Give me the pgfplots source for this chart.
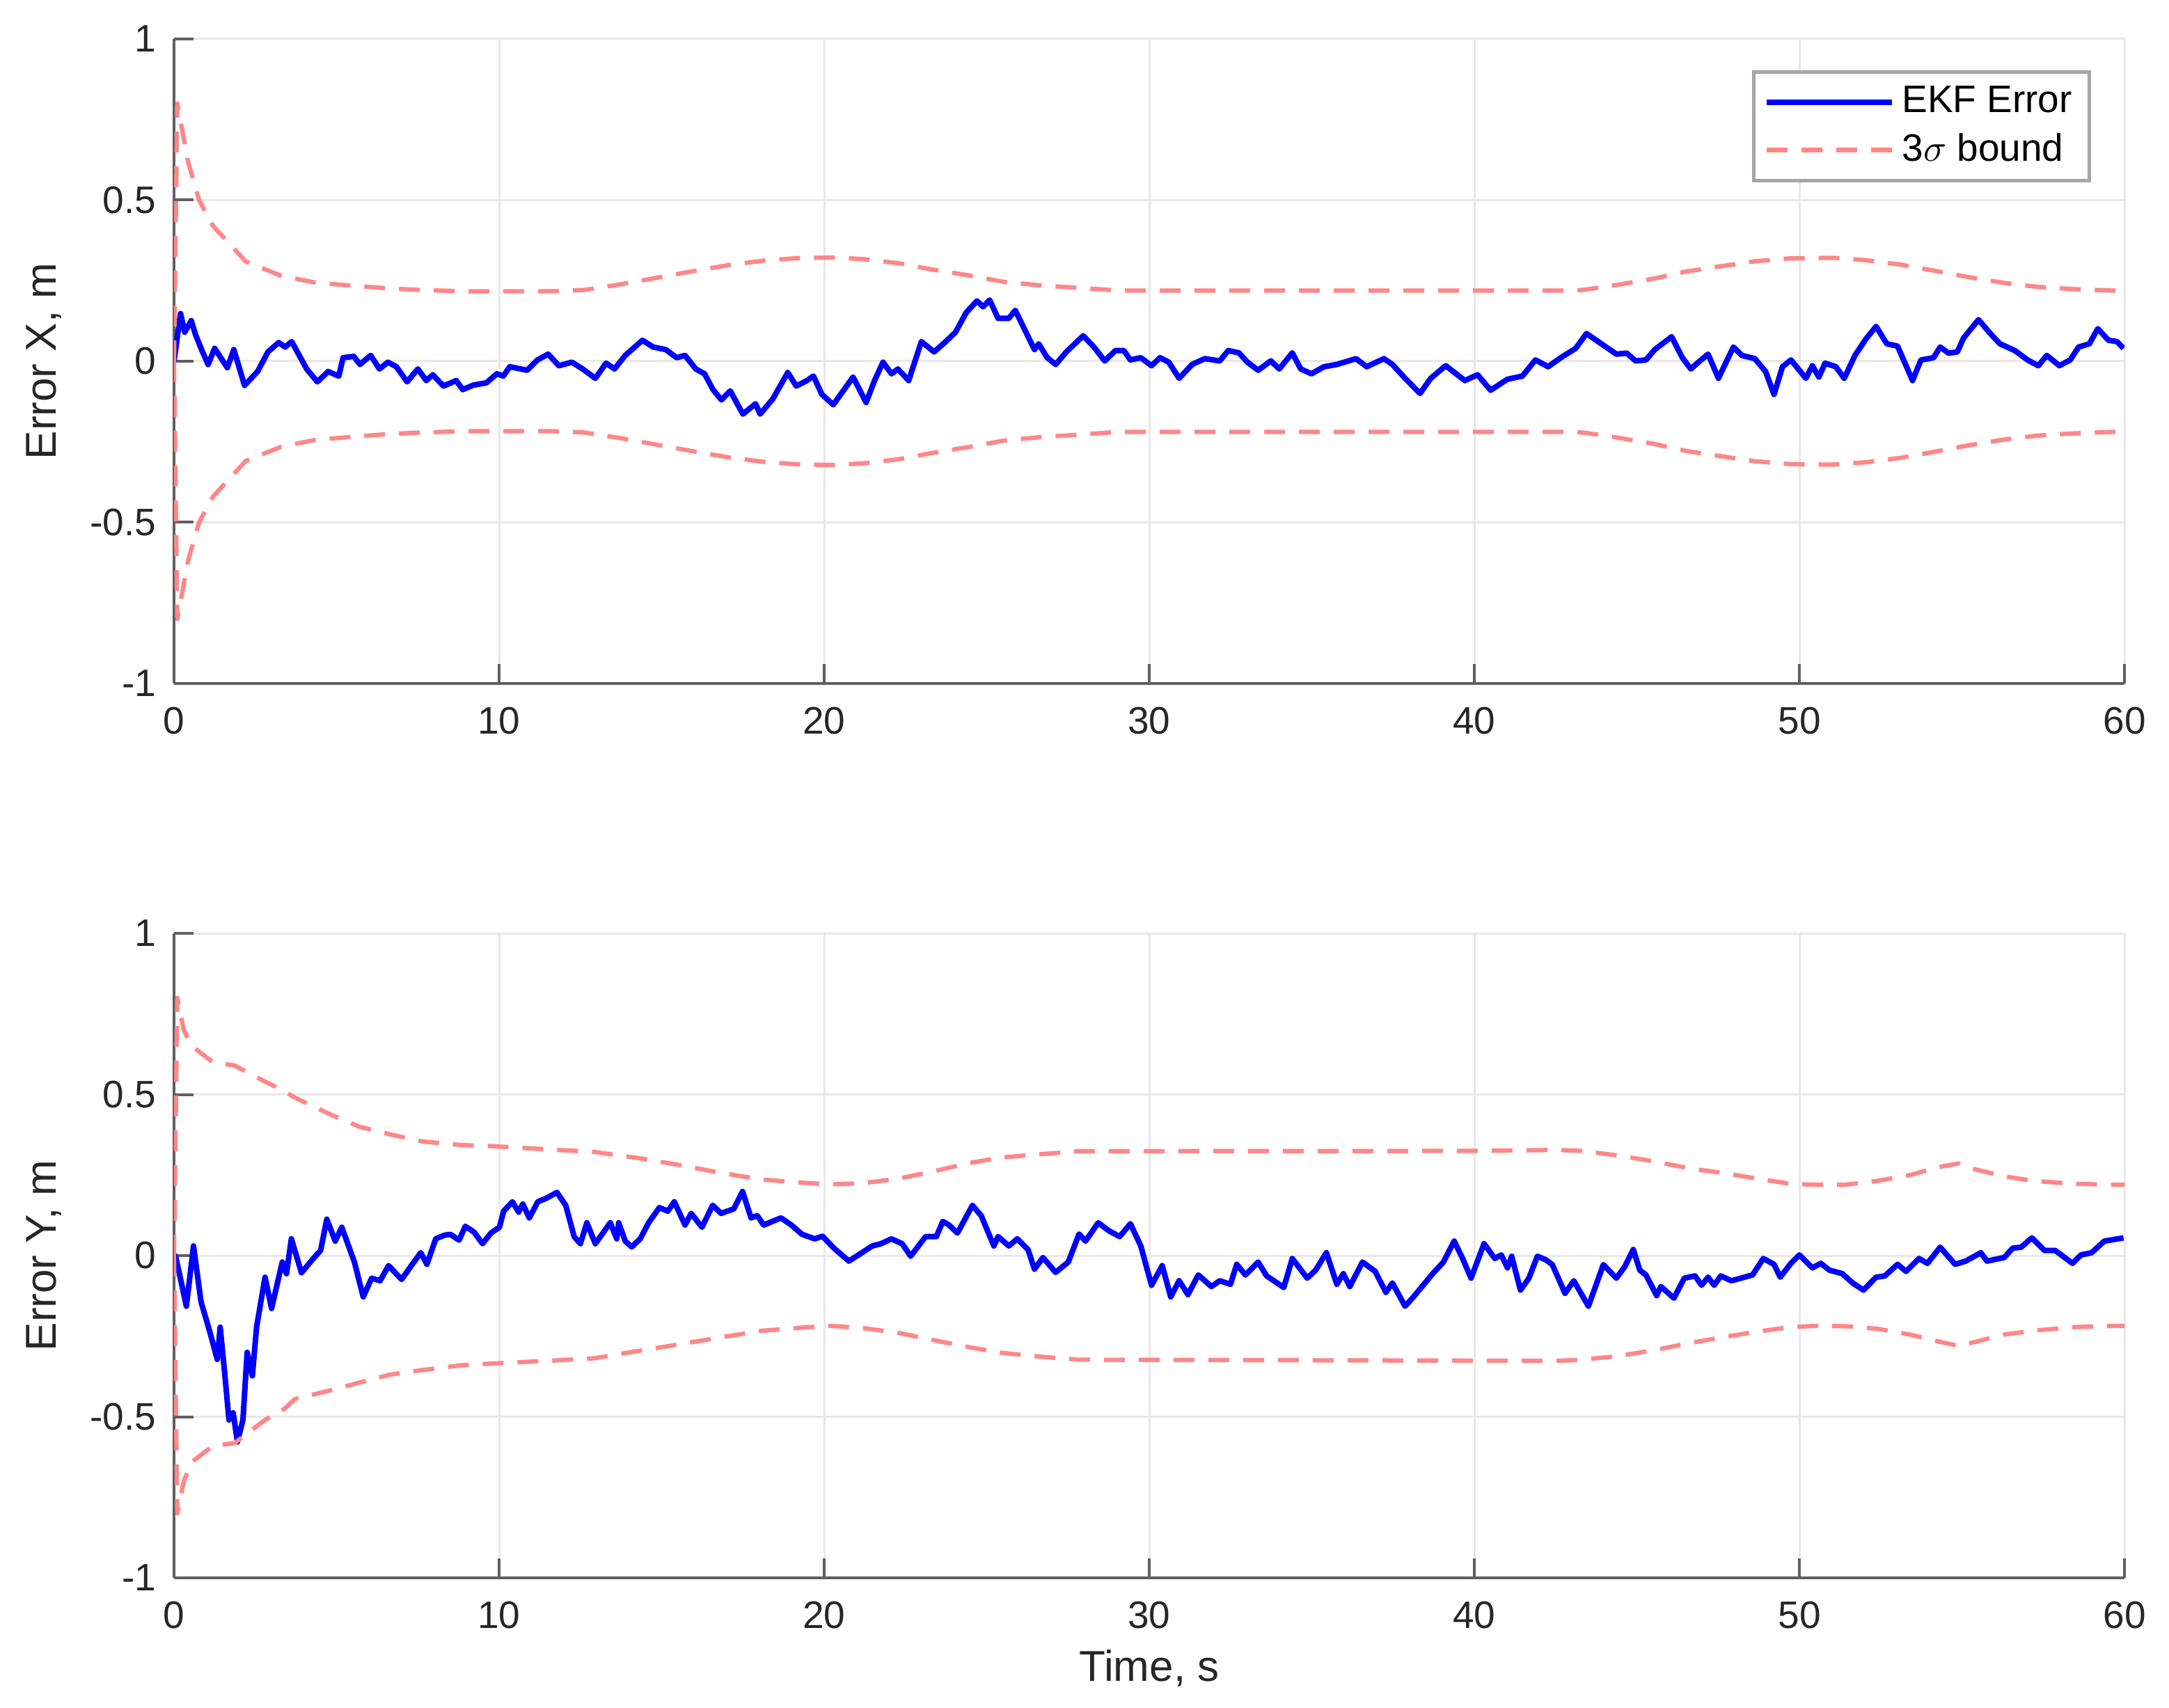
\documentclass[border=0pt]{standalone}
\usepackage{fontspec}
\setmainfont{Liberation Sans}
\usepackage{pgfplots}
\usepackage{pgfplotstable}
\pgfplotsset{compat=1.18}
\definecolor{ekfblue}{RGB}{0,0,255}
\definecolor{sigred}{RGB}{255,135,135}
\definecolor{gridgray}{RGB}{232,232,232}
\definecolor{axgray}{RGB}{95,95,95}
\definecolor{legedge}{RGB}{165,165,165}

\pgfplotstableread{
t v
0 0
0.2 0.148
0.33 0.09
0.53 0.126
0.66 0.083
0.86 0.033
1.05 -0.01
1.25 0.04
1.64 -0.02
1.84 0.036
2.17 -0.075
2.57 -0.032
2.89 0.029
3.22 0.058
3.42 0.044
3.62 0.061
4.08 -0.024
4.41 -0.064
4.74 -0.032
5.07 -0.046
5.2 0.011
5.53 0.015
5.72 -0.01
6.05 0.018
6.32 -0.024
6.58 -0.003
6.84 -0.017
7.17 -0.064
7.5 -0.024
7.76 -0.06
7.96 -0.042
8.29 -0.077
8.68 -0.06
8.88 -0.088
9.21 -0.074
9.61 -0.067
9.93 -0.039
10.13 -0.046
10.33 -0.017
10.86 -0.028
11.18 0.004
11.51 0.022
11.84 -0.014
12.24 -0.003
12.57 -0.024
12.96 -0.053
13.29 -0.006
13.55 -0.024
13.88 0.018
14.41 0.065
14.74 0.044
15.13 0.036
15.46 0.011
15.72 0.018
16.05 -0.024
16.32 -0.039
16.58 -0.088
16.84 -0.12
17.11 -0.092
17.5 -0.164
17.89 -0.132
18.03 -0.164
18.42 -0.117
18.88 -0.035
19.14 -0.077
19.47 -0.06
19.67 -0.046
19.93 -0.103
20.28 -0.135
20.89 -0.049
21.29 -0.128
21.55 -0.06
21.81 -0.003
22.07 -0.039
22.27 -0.024
22.6 -0.06
22.99 0.061
23.38 0.029
23.71 0.058
24.04 0.09
24.37 0.151
24.7 0.187
24.89 0.169
25.09 0.19
25.35 0.133
25.68 0.133
25.88 0.158
26.14 0.104
26.47 0.036
26.6 0.054
26.86 0.011
27.12 -0.01
27.45 0.029
27.97 0.079
28.3 0.044
28.63 0.001
28.96 0.033
29.22 0.033
29.42 0.004
29.74 0.011
30.07 -0.014
30.33 0.011
30.6 -0.003
30.92 -0.053
31.32 -0.01
31.71 0.008
32.17 0.001
32.43 0.033
32.76 0.026
33.02 -0.003
33.35 -0.028
33.74 0.001
34.0 -0.024
34.4 0.026
34.66 -0.024
34.99 -0.039
35.38 -0.017
35.77 -0.01
36.36 0.008
36.69 -0.017
37.22 0.008
37.48 -0.01
37.87 -0.053
38.33 -0.1
38.66 -0.053
39.12 -0.014
39.71 -0.06
40.1 -0.042
40.5 -0.09
41.02 -0.056
41.48 -0.046
41.88 0.004
42.27 -0.017
42.66 0.011
43.12 0.04
43.45 0.086
43.91 0.054
44.37 0.022
44.69 0.025
44.96 0.001
45.28 0.004
45.55 0.036
46.07 0.076
46.4 0.011
46.66 -0.024
46.86 -0.006
47.19 0.022
47.51 -0.053
47.97 0.044
48.23 0.018
48.63 0.008
48.96 -0.032
49.22 -0.103
49.48 -0.017
49.74 0.004
50.2 -0.053
50.4 -0.014
50.6 -0.049
50.79 -0.006
51.12 -0.017
51.38 -0.053
51.71 0.018
52.04 0.068
52.36 0.108
52.69 0.054
53.02 0.047
53.48 -0.06
53.74 0.004
54.13 0.011
54.33 0.044
54.59 0.025
54.86 0.029
55.05 0.072
55.51 0.129
55.9 0.083
56.17 0.054
56.63 0.033
57.02 0.004
57.35 -0.014
57.61 0.018
58.0 -0.014
58.33 0.004
58.59 0.044
58.92 0.054
59.18 0.101
59.51 0.065
59.77 0.061
59.97 0.04
}\topblue

\pgfplotstableread{
t u l
0 0 0
0.1 0.8 -0.8
0.43 0.62 -0.62
0.77 0.5 -0.5
1.2 0.42 -0.42
2.2 0.31 -0.31
3.3 0.265 -0.265
4.3 0.245 -0.245
5.4 0.235 -0.235
6.6 0.226 -0.226
7.6 0.221 -0.221
9.0 0.217 -0.217
11.6 0.217 -0.217
12.6 0.221 -0.221
13.7 0.238 -0.238
14.9 0.26 -0.26
16.05 0.281 -0.281
17.1 0.299 -0.299
18.2 0.313 -0.313
19.2 0.32 -0.32
20.3 0.322 -0.322
21.2 0.317 -0.317
22.3 0.304 -0.304
23.3 0.285 -0.285
24.4 0.267 -0.267
25.55 0.246 -0.246
26.7 0.235 -0.235
27.8 0.228 -0.228
29.1 0.219 -0.219
43.0 0.219 -0.219
43.4 0.222 -0.222
44.4 0.237 -0.237
45.5 0.256 -0.256
46.5 0.278 -0.278
47.6 0.295 -0.295
48.6 0.31 -0.31
49.7 0.319 -0.319
51.0 0.321 -0.321
52.0 0.314 -0.314
53.1 0.3 -0.3
54.1 0.282 -0.282
55.2 0.261 -0.261
56.3 0.243 -0.243
57.3 0.231 -0.231
58.4 0.224 -0.224
59.7 0.219 -0.219
60 0.219 -0.219
}\topbound

\pgfplotstableread{
t v
0 0
0.05 -0.002
0.38 -0.157
0.6 0.03
0.83 -0.143
1.1 -0.236
1.33 -0.322
1.42 -0.222
1.56 -0.366
1.69 -0.51
1.82 -0.488
1.95 -0.578
2.12 -0.51
2.25 -0.3
2.41 -0.373
2.54 -0.222
2.8 -0.067
3.0 -0.164
3.33 -0.02
3.46 -0.056
3.61 0.052
3.92 -0.053
4.31 -0.006
4.51 0.016
4.7 0.113
4.96 0.045
5.16 0.088
5.55 -0.02
5.82 -0.128
6.08 -0.07
6.34 -0.078
6.6 -0.031
7.0 -0.074
7.33 -0.027
7.59 0.009
7.78 -0.027
8.05 0.052
8.31 0.063
8.5 0.066
8.77 0.048
8.96 0.091
9.23 0.073
9.49 0.037
9.75 0.07
10.01 0.088
10.14 0.138
10.41 0.167
10.6 0.135
10.73 0.16
10.93 0.117
11.19 0.167
11.45 0.178
11.78 0.196
12.05 0.156
12.31 0.059
12.5 0.037
12.7 0.102
12.96 0.037
13.42 0.102
13.62 0.052
13.68 0.102
13.88 0.045
14.08 0.027
14.34 0.052
14.6 0.102
14.93 0.149
15.19 0.138
15.39 0.167
15.72 0.095
15.91 0.131
16.24 0.088
16.57 0.156
16.83 0.131
17.22 0.145
17.49 0.199
17.75 0.117
17.94 0.124
18.14 0.095
18.67 0.117
18.99 0.095
19.32 0.066
19.71 0.052
19.95 0.06
20.3 0.023
20.76 -0.017
21.16 0.009
21.48 0.03
21.75 0.037
22.07 0.052
22.4 0.037
22.66 -0.002
23.12 0.059
23.45 0.059
23.65 0.106
23.84 0.095
24.1 0.07
24.56 0.156
24.83 0.124
25.22 0.03
25.35 0.059
25.68 0.03
25.94 0.052
26.27 0.019
26.47 -0.042
26.73 -0.006
27.12 -0.052
27.51 -0.02
27.84 0.067
28.04 0.045
28.43 0.102
28.76 0.077
29.09 0.059
29.42 0.099
29.74 0.03
30.07 -0.092
30.4 -0.031
30.66 -0.128
30.92 -0.078
31.19 -0.121
31.51 -0.06
31.91 -0.096
32.17 -0.078
32.5 -0.089
32.69 -0.027
32.96 -0.06
33.35 -0.02
33.61 -0.063
34.14 -0.099
34.4 -0.009
34.86 -0.07
35.12 -0.045
35.45 0.009
35.77 -0.089
35.97 -0.056
36.17 -0.096
36.56 -0.02
36.95 -0.049
37.28 -0.114
37.48 -0.085
37.87 -0.157
38.13 -0.128
38.72 -0.056
39.05 -0.02
39.38 0.045
39.64 -0.009
39.9 -0.07
40.3 0.037
40.63 -0.009
40.83 0.002
41.02 -0.038
41.15 -0.002
41.42 -0.107
41.68 -0.07
41.94 -0.002
42.2 -0.013
42.4 -0.028
42.79 -0.117
43.06 -0.078
43.51 -0.157
43.97 -0.028
44.37 -0.07
44.63 -0.034
44.89 0.019
45.09 -0.045
45.28 -0.06
45.61 -0.124
45.74 -0.096
46.14 -0.132
46.46 -0.07
46.79 -0.063
46.99 -0.092
47.19 -0.067
47.38 -0.092
47.58 -0.063
47.91 -0.078
48.56 -0.06
48.89 -0.009
49.22 -0.027
49.41 -0.067
49.74 -0.024
50.0 0.002
50.4 -0.038
50.66 -0.024
50.92 -0.045
51.32 -0.056
51.64 -0.085
51.97 -0.107
52.36 -0.067
52.63 -0.063
53.02 -0.027
53.28 -0.049
53.68 -0.009
53.94 -0.024
54.33 0.026
54.79 -0.027
55.12 -0.017
55.58 0.009
55.77 -0.017
56.3 -0.006
56.56 0.023
56.82 0.026
57.15 0.055
57.54 0.016
57.87 0.016
58.4 -0.024
58.66 0.002
58.99 0.009
59.38 0.045
59.97 0.055
}\botblue

\pgfplotstableread{
t u l
0 0 0
0.1 0.8 -0.8
0.3 0.7 -0.7
0.55 0.65 -0.64
1.2 0.6 -0.59
1.86 0.59 -0.582
2.8 0.54 -0.51
3.4 0.51 -0.475
3.72 0.49 -0.445
4.9 0.434 -0.416
5.7 0.4 -0.394
6.66 0.376 -0.369
7.65 0.354 -0.355
8.85 0.343 -0.34
9.75 0.34 -0.335
11.6 0.329 -0.326
12.9 0.322 -0.319
14.2 0.304 -0.297
15.5 0.282 -0.276
16.8 0.257 -0.254
18.1 0.236 -0.233
19.5 0.225 -0.222
20.2 0.221 -0.218
21.2 0.225 -0.225
22.3 0.239 -0.24
23.3 0.26 -0.261
24.4 0.286 -0.283
25.4 0.304 -0.301
26.7 0.315 -0.314
27.8 0.324 -0.323
40.3 0.325 -0.326
42.5 0.328 -0.327
43.3 0.325 -0.323
44.4 0.311 -0.312
45.5 0.293 -0.294
46.6 0.271 -0.272
47.6 0.257 -0.254
48.7 0.239 -0.236
49.7 0.223 -0.222
50.5 0.22 -0.218
51.4 0.22 -0.219
52.4 0.232 -0.227
53.4 0.25 -0.245
54.3 0.275 -0.267
54.9 0.286 -0.28
55.4 0.268 -0.268
56.3 0.246 -0.245
57.2 0.232 -0.233
58.4 0.223 -0.222
59.7 0.22 -0.218
60 0.22 -0.218
}\botbound

\pgfplotsset{
  errstyle/.style={
    scale only axis,
    width=560.4pt, height=185.2pt,
    xmin=0, xmax=60, ymin=-1, ymax=1,
    axis x line*=bottom, axis y line*=left,
    axis line style={axgray, line width=0.8pt, -},
    xtick={0,10,20,30,40,50,60},
    xticklabels={0,10,20,30,40,50,60},
    ytick={-1,-0.5,0,0.5,1},
    yticklabels={-1,-0.5,0,0.5,1},
    tick align=inside,
    major tick length=5.6pt,
    tick style={axgray, line width=0.8pt},
    grid=major,
    major grid style={gridgray, line width=0.6pt},
    xticklabel style={font=\fontsize{11}{13}\selectfont, text=black!85, yshift=-3.2pt},
    yticklabel style={font=\fontsize{11}{13}\selectfont, text=black!85, xshift=-1.6pt},
    label style={font=\fontsize{12.4}{14}\selectfont, text=black!85},
    ylabel style={at={(axis description cs:-0.0667,0.5)}, anchor=center},
    xlabel style={at={(axis description cs:0.5,-0.140)}, anchor=center},
    legend image code/.code={\draw[#1] (0pt,0pt) -- (36pt,0pt);},
  },
  blueline/.style={ekfblue, line width=1.6pt, line join=round},
  redline/.style={sigred, line width=1.25pt, line join=round, dash pattern=on 6pt off 4pt},
}

\begin{document}
\begin{tikzpicture}
\path[use as bounding box] (0,0) rectangle (623.2pt,490.6pt);
\begin{axis}[errstyle,
  at={(50pt,294.2pt)}, anchor=south west,
  ylabel={Error X, m},
  legend style={at={(rel axis cs:0.983,0.951)}, anchor=north east,
    draw=legedge, line width=1pt, fill=white,
    font=\fontsize{11}{13}\selectfont,
    inner xsep=3pt, inner ysep=2pt, row sep=0.5pt,
    cells={anchor=west}},
]
\addplot[blueline] table[x=t, y=v] {\topblue};
\addlegendentry{EKF Error}
\addplot[redline] table[x=t, y=u] {\topbound};
\addlegendentry{3$\sigma$ bound}
\addplot[redline, forget plot] table[x=t, y=l] {\topbound};
\end{axis}
\begin{axis}[errstyle,
  at={(50pt,37.2pt)}, anchor=south west,
  ylabel={Error Y, m},
  xlabel={Time, s},
]
\addplot[blueline] table[x=t, y=v] {\botblue};
\addplot[redline] table[x=t, y=u] {\botbound};
\addplot[redline] table[x=t, y=l] {\botbound};
\end{axis}
\end{tikzpicture}
\end{document}
